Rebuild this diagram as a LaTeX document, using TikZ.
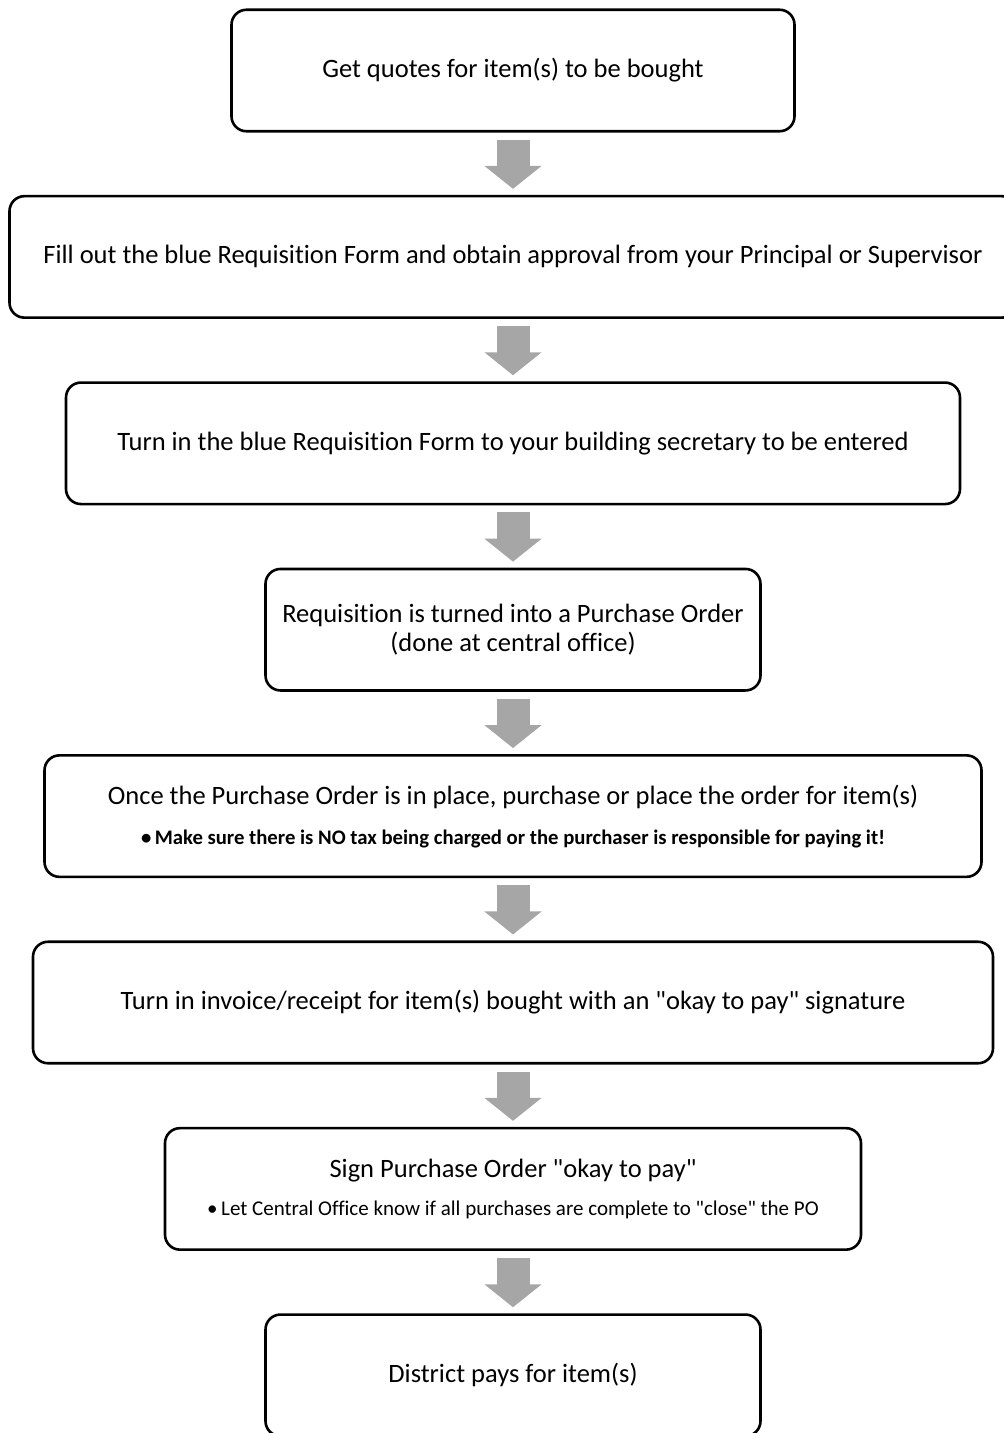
\documentclass[tikz,border=0pt]{standalone}
\usepackage{fontspec}
\setmainfont{Carlito}[Ligatures=NoCommon]
\usetikzlibrary{positioning,arrows.meta}

\definecolor{arrowgray}{HTML}{A6A6A6}

\tikzset{
  stepbox/.style={draw, line width=2.6pt, rounded corners=15pt, minimum height=121.5pt,
    align=center, inner sep=0pt, font=\fontsize{26.5}{29}\selectfont},
  downarrow/.style={arrowgray, line width=33pt,
    -{Triangle[width=56pt,length=23pt]}, shorten <=7pt, shorten >=6pt}
}

\begin{document}
\begin{tikzpicture}[x=1pt,y=1pt,node distance=62.3pt]
  \useasboundingbox (0,0) rectangle (1004,-1433);
  \node[stepbox, minimum width=563pt] (quotes) at (513,-70.5) {Get quotes for item(s) to be bought};
  \node[stepbox, minimum width=1007pt, below=of quotes] (fill) {Fill out the blue Requisition Form and obtain approval from your Principal or Supervisor};
  \node[stepbox, minimum width=894pt, below=of fill] (turnin) {Turn in the blue Requisition Form to your building secretary to be entered};
  \node[stepbox, minimum width=495pt, below=of turnin] (req) {Requisition is turned into a Purchase Order\\(done at central office)};
  \node[stepbox, minimum width=937pt, below=of req] (once) {Once the Purchase Order is in place, purchase or place the order for item(s)\\[11pt]
    {\fontsize{20.7}{24}\selectfont\bfseries\textbullet\,Make sure there is NO tax being charged or the purchaser is responsible for paying it!}};
  \node[stepbox, minimum width=960pt, below=of once] (invoice) {Turn in invoice/receipt for item(s) bought with an \textquotedbl okay to pay\textquotedbl{} signature};
  \node[stepbox, minimum width=696pt, below=of invoice] (sign) {Sign Purchase Order \textquotedbl okay to pay\textquotedbl\\[9pt]
    {\fontsize{21}{24}\selectfont\textbullet\,Let Central Office know if all purchases are complete to \textquotedbl close\textquotedbl{} the PO}};
  \node[stepbox, minimum width=495pt, below=of sign] (pays) {District pays for item(s)};

  \foreach \a/\b in {quotes/fill,fill/turnin,turnin/req,req/once,once/invoice,invoice/sign,sign/pays}
    \draw[downarrow] (\a.south) -- (\a.south |- \b.north);
\end{tikzpicture}
\end{document}
